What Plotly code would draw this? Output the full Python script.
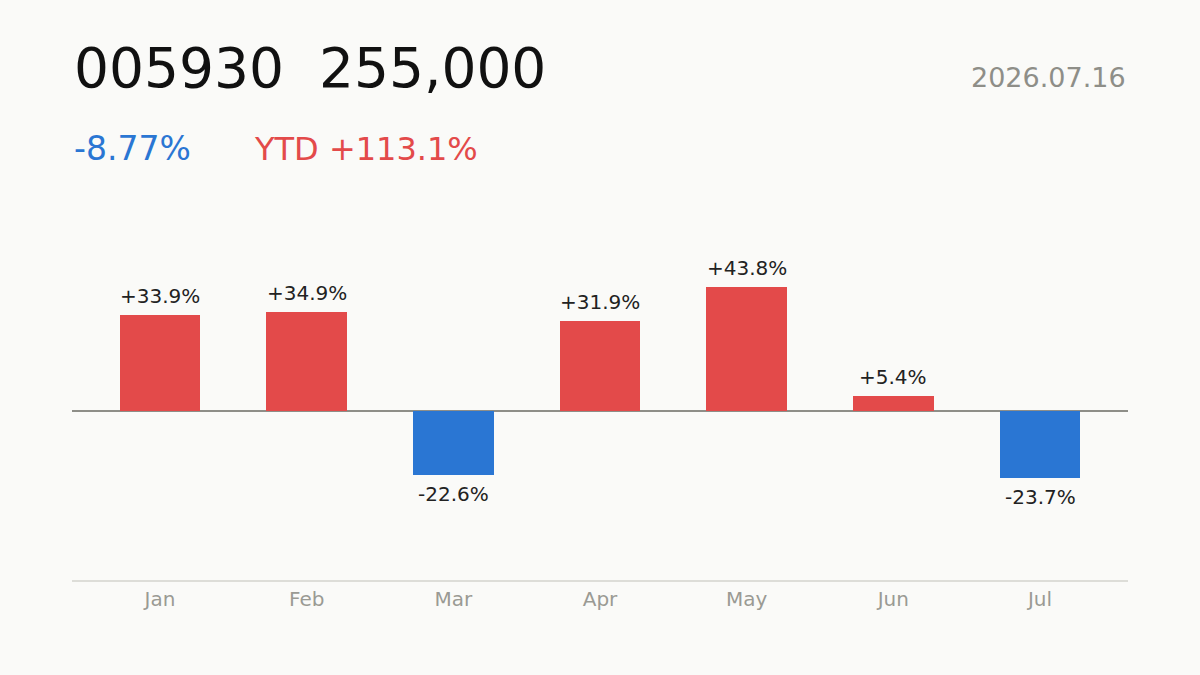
import plotly.graph_objects as go

months = ["Jan", "Feb", "Mar", "Apr", "May", "Jun", "Jul"]
returns = [33.9, 34.9, -22.6, 31.9, 43.8, 5.4, -23.7]
ticker = "005930"
price = "255,000"
date_label = "2026.07.16"
day_change = "-8.77%"
ytd_label = "YTD +113.1%"

RED = "#E34A4A"
BLUE = "#2A76D3"
BG = "#FAFAF8"
GRAY = "#8E8E88"
FONT = "DejaVu Sans"

colors = [RED if v >= 0 else BLUE for v in returns]
labels = [("+" if v >= 0 else "") + f"{v:.1f}%" for v in returns]

fig = go.Figure(go.Bar(
    x=months, y=returns, marker=dict(color=colors, line=dict(width=0)),
    width=0.55, cliponaxis=False, hoverinfo="skip",
))

top_px, bot_px = 200, 580
H = bot_px - top_px
def py(p):
    return (bot_px - p) / H

def xp(p):
    return (p - 72) / (1128 - 72)

annotations = [
    dict(text=f"{ticker}  {price}", x=xp(72), y=py(68), xref="paper", yref="paper",
         xanchor="left", yanchor="middle", showarrow=False,
         font=dict(family=FONT, size=55, color="#111111")),
    dict(text=date_label, x=xp(1128), y=py(78), xref="paper", yref="paper",
         xanchor="right", yanchor="middle", showarrow=False,
         font=dict(family=FONT, size=27, color=GRAY)),
    dict(text=day_change, x=xp(72), y=py(149), xref="paper", yref="paper",
         xanchor="left", yanchor="middle", showarrow=False,
         font=dict(family=FONT, size=33, color=BLUE)),
    dict(text=ytd_label, x=xp(252), y=py(149), xref="paper", yref="paper",
         xanchor="left", yanchor="middle", showarrow=False,
         font=dict(family=FONT, size=32, color=RED)),
]
for m, v, lab in zip(months, returns, labels):
    annotations.append(dict(
        text=lab, x=m, y=v, xref="x", yref="y", showarrow=False,
        xanchor="center", yanchor="middle", yshift=19 if v >= 0 else -19,
        font=dict(family=FONT, size=20, color="#222222"),
    ))

fig.update_layout(
    width=1200, height=675,
    margin=dict(l=72, r=72, t=top_px, b=675 - bot_px),
    paper_bgcolor=BG, plot_bgcolor=BG,
    showlegend=False,
    bargap=0,
    xaxis=dict(range=[-0.6, 6.6], showgrid=False, zeroline=False,
               showline=True, linecolor="#DDDDD8", linewidth=1.5,
               ticks="", tickfont=dict(family=FONT, size=20, color="#9A9A94"),
               ticklabelstandoff=0),
    yaxis=dict(range=[-59.7, 74.6], showgrid=False, zeroline=True,
               zerolinecolor=GRAY, zerolinewidth=2, showticklabels=False,
               showline=False, ticks=""),
    annotations=annotations,
)

fig.write_html("out.html")
